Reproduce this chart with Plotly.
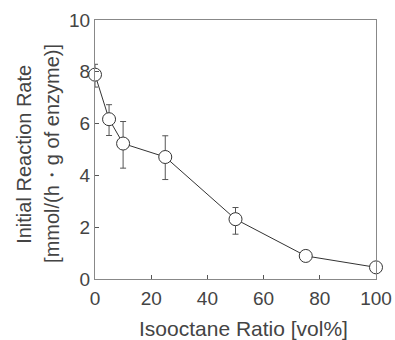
import plotly.graph_objects as go

isooctane = [0, 5, 10, 25, 50, 75, 100]
rate = [7.89, 6.17, 5.23, 4.71, 2.31, 0.89, 0.45]
err_plus = [0.40, 0.56, 0.85, 0.82, 0.45, 0, 0]
err_minus = [0.48, 0.63, 0.95, 0.87, 0.58, 0, 0]

x_ticks = [0, 20, 40, 60, 80, 100]
y_ticks = [0, 2, 4, 6, 8, 10]

x_title = "Isooctane Ratio [vol%]"
y_title_lines = ["Initial Reaction Rate", "[mmol/(h・g of enzyme)]"]

FONT = "Liberation Sans, Arial, sans-serif"
TXT = "#444"

fig = go.Figure()
fig.add_trace(go.Scatter(
    x=isooctane, y=rate, mode="lines+markers",
    line=dict(color="#333", width=1),
    marker=dict(symbol="circle", size=13, color="white", line=dict(color="#333", width=1)),
    error_y=dict(type="data", symmetric=False, array=err_plus, arrayminus=err_minus,
                 color="#555", thickness=1, width=3),
    showlegend=False, cliponaxis=False,
))

fig.update_layout(
    width=395, height=340,
    margin=dict(l=95, r=19, t=20, b=61, autoexpand=False),
    paper_bgcolor="white", plot_bgcolor="white",
    font=dict(family=FONT, size=19, color=TXT),
    xaxis=dict(range=[0, 100], tickvals=x_ticks, ticks="inside", ticklen=4,
               tickcolor="#555", showgrid=False, zeroline=False, automargin=False,
               ticklabelstandoff=2,
               showline=True, linecolor="#888", linewidth=1, mirror=True),
    yaxis=dict(range=[0, 10], tickvals=y_ticks, ticks="inside", ticklen=4,
               tickcolor="#555", showgrid=False, zeroline=False, automargin=False,
               showline=True, linecolor="#888", linewidth=1, mirror=True),
    annotations=[
        dict(text=x_title, xref="paper", yref="paper", x=0.530, y=-0.19,
             xanchor="center", yanchor="middle", showarrow=False,
             font=dict(size=21, color=TXT, family=FONT)),
        dict(text=y_title_lines[0], xref="paper", yref="paper", x=-0.253, y=0.483,
             xanchor="center", yanchor="middle", showarrow=False, textangle=-90,
             font=dict(size=20, color=TXT, family=FONT)),
        dict(text=y_title_lines[1], xref="paper", yref="paper", x=-0.153, y=0.483,
             xanchor="center", yanchor="middle", showarrow=False, textangle=-90,
             font=dict(size=20, color=TXT, family=FONT)),
    ],
)

fig.write_html("out.html", config={"displayModeBar": False},
               post_script="document.body.style.margin='0';")
